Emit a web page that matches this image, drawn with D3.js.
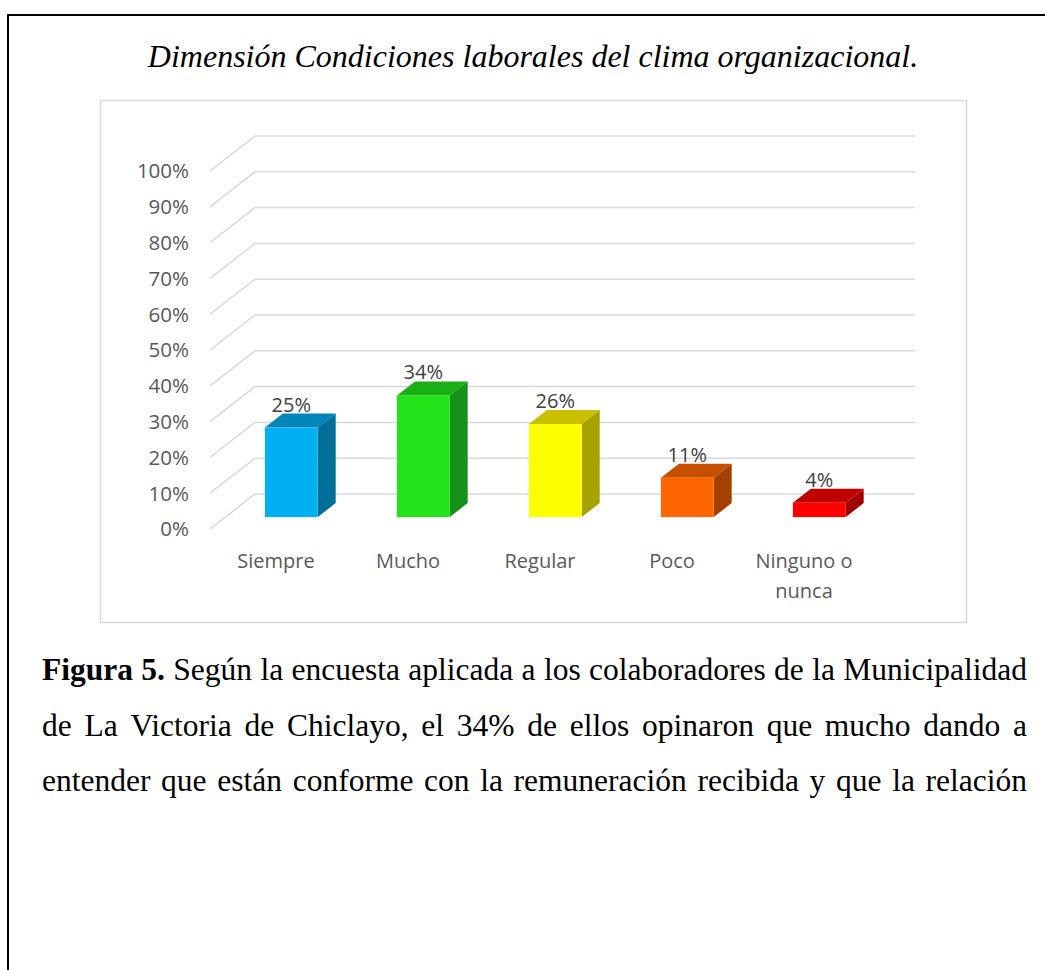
<!DOCTYPE html>
<html>
<head>
<meta charset="utf-8">
<script src="https://cdn.jsdelivr.net/npm/d3@7"></script>
<style>
  body { margin: 0; background: #fff; }
  svg { display: block; }
</style>
</head>
<body>
<div id="chart"></div>
<script>
// data
const categories = ["Siempre", "Mucho", "Regular", "Poco", "Ninguno o nunca"];
const values = [25, 34, 26, 11, 4];
const tickValues = [0, 10, 20, 30, 40, 50, 60, 70, 80, 90, 100];
const frontColors = ["#00b0f0", "#22e31a", "#ffff00", "#ff6600", "#ff0000"];
const topColors = ["#0086b9", "#1aaf14", "#c8c000", "#c45000", "#c00000"];
const sideColors = ["#006f98", "#16911a", "#a6a300", "#a34200", "#a00000"];

const title = "Dimensión Condiciones laborales del clima organizacional.";
const captionLines = [
    [{ t: "Figura 5.", b: true }, { t: "Según la encuesta aplicada a los colaboradores de la Municipalidad" }],
    [{ t: "de La Victoria de Chiclayo, el 34% de ellos opinaron que mucho dando a" }],
    [{ t: "entender que están conforme con la remuneración recibida y que la relación" }]
];

const W = 1045, H = 970;
const svg = d3.select("#chart").append("svg")
    .attr("width", W)
    .attr("height", H);

// outer page frame (left + top only)
svg.append("path")
    .attr("d", "M8,970 L8,15 L1050,15")
    .attr("fill", "none")
    .attr("stroke", "#000")
    .attr("stroke-width", 2);

// title
svg.append("text")
    .attr("x", 533)
    .attr("y", 67)
    .attr("text-anchor", "middle")
    .attr("font-family", "Liberation Serif, Times New Roman, serif")
    .attr("font-style", "italic")
    .attr("font-size", 32)
    .attr("fill", "#000")
    .text(title);

// chart box
svg.append("rect")
    .attr("x", 100.5).attr("y", 100.5)
    .attr("width", 866).attr("height", 522)
    .attr("fill", "#fff")
    .attr("stroke", "#d9d9d9")
    .attr("stroke-width", 1.5);

// 3d geometry: back wall, floor depth
const depthX = 45, depthY = 35;
const x = d3.scaleBand()
    .domain(categories)
    .range([255, 915])
    .paddingInner(0.6)
    .paddingOuter(0.3);
const y = d3.scaleLinear()
    .domain([0, 100])
    .range([494, 136]);

// project a back-wall point forward by depth fraction d
const px = (xb, d) => xb - depthX * d;
const py = (v, d) => y(v) + depthY * d;

const font = "Open Sans, Liberation Sans, sans-serif";

// gridlines: back line + diagonal on side wall
const grid = svg.append("g");
tickValues.forEach(v => {
    grid.append("path")
        .attr("d", `M${px(x.range()[1], 0)},${py(v, 0)} L${px(255, 0)},${py(v, 0)} L${px(255, 1)},${py(v, 1)}`)
        .attr("fill", "none")
        .attr("stroke", "#d9d9d9")
        .attr("stroke-width", 1.5);
});

// y tick labels, at the front of the diagonals
svg.append("g").selectAll("text")
    .data(tickValues)
    .enter()
    .append("text")
    .attr("x", 189)
    .attr("y", d => py(d, 1))
    .attr("dy", "0.36em")
    .attr("text-anchor", "end")
    .attr("font-family", font)
    .attr("font-size", 20.5)
    .attr("fill", "#595959")
    .text(d => d + "%");

// bars
const d0 = 0.26, d1 = 0.66;
const bars = svg.append("g");
categories.forEach((c, i) => {
    const xl = x(c), xr = x(c) + x.bandwidth(), v = values[i];
    // top face
    bars.append("path")
        .attr("d", `M${px(xl, d1)},${py(v, d1)} L${px(xl, d0)},${py(v, d0)} L${px(xr, d0)},${py(v, d0)} L${px(xr, d1)},${py(v, d1)} Z`)
        .attr("fill", topColors[i]);
    // side face
    bars.append("path")
        .attr("d", `M${px(xr, d1)},${py(v, d1)} L${px(xr, d0)},${py(v, d0)} L${px(xr, d0)},${py(0, d0)} L${px(xr, d1)},${py(0, d1)} Z`)
        .attr("fill", sideColors[i]);
    // front face
    bars.append("rect")
        .attr("x", px(xl, d1))
        .attr("y", py(v, d1))
        .attr("width", x.bandwidth())
        .attr("height", py(0, d1) - py(v, d1))
        .attr("fill", frontColors[i]);
    // value label
    bars.append("text")
        .attr("x", px(xl, d1) + x.bandwidth() / 2)
        .attr("y", py(v, d0) - 2)
        .attr("text-anchor", "middle")
        .attr("font-family", font)
        .attr("font-size", 20)
        .attr("fill", "#404040")
        .text(v + "%");
});

// category labels at the front edge of the floor
const catG = svg.append("g");
categories.forEach(c => {
    const cx = px(x(c) + x.bandwidth() / 2, 1);
    const lines = c === "Ninguno o nunca" ? ["Ninguno o", "nunca"] : [c];
    lines.forEach((ln, j) => {
        catG.append("text")
            .attr("x", cx)
            .attr("y", 568 + j * 30)
            .attr("text-anchor", "middle")
            .attr("font-family", font)
            .attr("font-size", 20)
            .attr("fill", "#595959")
            .text(ln);
    });
});

// justified caption below the chart
const capLeft = 42, capRight = 1027;
const capG = svg.append("g")
    .attr("font-family", "Liberation Serif, Times New Roman, serif")
    .attr("font-size", 31.5)
    .attr("fill", "#000");
captionLines.forEach((parts, li) => {
    const words = [];
    parts.forEach(p => p.t.split(" ").forEach(w => words.push({ w, b: p.b })));
    const nodes = words.map(o => capG.append("text")
        .attr("font-weight", o.b ? "bold" : "normal")
        .attr("y", 680 + li * 55.5)
        .text(o.w));
    const widths = nodes.map(n => n.node().getComputedTextLength());
    const gap = (capRight - capLeft - d3.sum(widths)) / (words.length - 1);
    let cx = capLeft;
    nodes.forEach((n, k) => {
        n.attr("x", cx);
        cx += widths[k] + gap;
    });
});
</script>
</body>
</html>
